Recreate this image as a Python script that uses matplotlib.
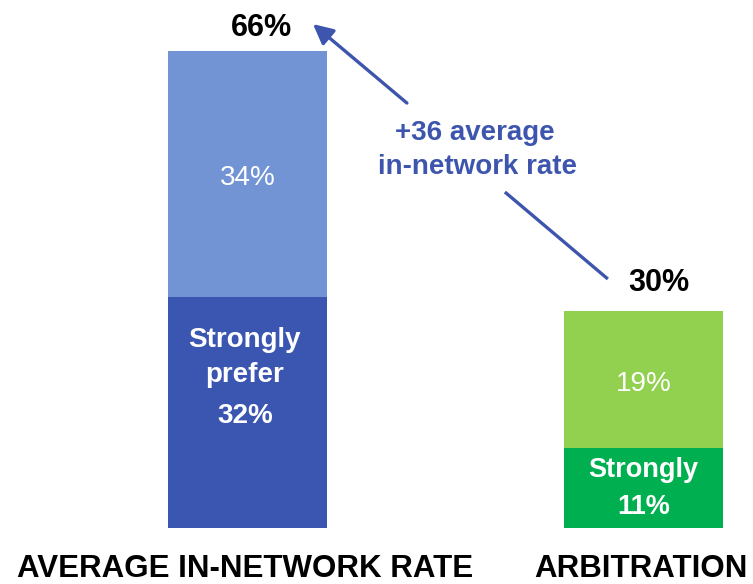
import matplotlib
matplotlib.use("Agg")
import matplotlib.pyplot as plt

plt.rcParams['font.family'] = ['Liberation Sans', 'DejaVu Sans']

# data
categories = ['AVERAGE IN-NETWORK RATE', 'ARBITRATION']
strong = [32, 11]
somewhat = [34, 19]
totals = [66, 30]
strong_labels = [['Strongly', 'prefer', '32%'], ['Strongly', '11%']]
somewhat_labels = ['34%', '19%']
total_labels = ['66%', '30%']
diff_label = ['+36 average', 'in-network rate']

strong_colors = ['#3A56B0', '#00B050']
light_colors = ['#7294D4', '#92D050']
accent = '#3D55AD'

fig = plt.figure(figsize=(7.53, 5.84), dpi=100)
ax = fig.add_axes([0, 0, 1, 1])
ax.set_xlim(-0.625, 1.2765)
ax.set_ylim(-7.745, 73.03)
ax.axis('off')

x = [0, 1]
w = 0.4015
ax.bar(x, strong, width=w, color=strong_colors, linewidth=0)
ax.bar(x, somewhat, width=w, bottom=strong, color=light_colors, linewidth=0)

# segment labels
for i in range(2):
    ax.text(x[i], strong[i] + somewhat[i] / 2 - 0.55, somewhat_labels[i], ha='center', va='center',
            color='white', fontsize=20)

# strongly labels (baselines)
ys1 = [25.0, 20.2, 14.5]
for lab, yy in zip(strong_labels[0], ys1):
    ax.text(x[0] - 0.007, yy, lab, ha='center', va='baseline', color='white',
            fontsize=20, fontweight='bold')
ys2 = [7.05, 1.94]
for lab, yy in zip(strong_labels[1], ys2):
    ax.text(x[1], yy, lab, ha='center', va='baseline', color='white',
            fontsize=19.5, fontweight='bold')

# totals
ax.text(x[0] + 0.034, totals[0] + 2.05, total_labels[0], ha='center', va='baseline',
        fontsize=22, fontweight='bold', color='black')
ax.text(x[1] + 0.039, totals[1] + 2.78, total_labels[1], ha='center', va='baseline',
        fontsize=22, fontweight='bold', color='black')

# category labels
for i in range(2):
    ax.text(x[i] - 0.006, -6.75, categories[i], ha='center', va='baseline',
            fontsize=22.5, fontweight='bold', color='black')

# arrow, broken by the annotation text
ax.annotate('', xy=(0.1654, 69.7), xytext=(0.4025, 58.78),
            arrowprops=dict(arrowstyle='-|>', color=accent, lw=2.4, mutation_scale=30,
                            shrinkA=0, shrinkB=0))
ax.plot([0.650, 0.910], [46.47, 34.44], color=accent, lw=2.4, solid_capstyle='butt')

ax.text(0.574, 53.66, diff_label[0], ha='center', va='baseline', fontsize=20,
        fontweight='bold', color=accent)
ax.text(0.582, 48.96, diff_label[1], ha='center', va='baseline', fontsize=20,
        fontweight='bold', color=accent)

fig.savefig('out.png', dpi=100)
